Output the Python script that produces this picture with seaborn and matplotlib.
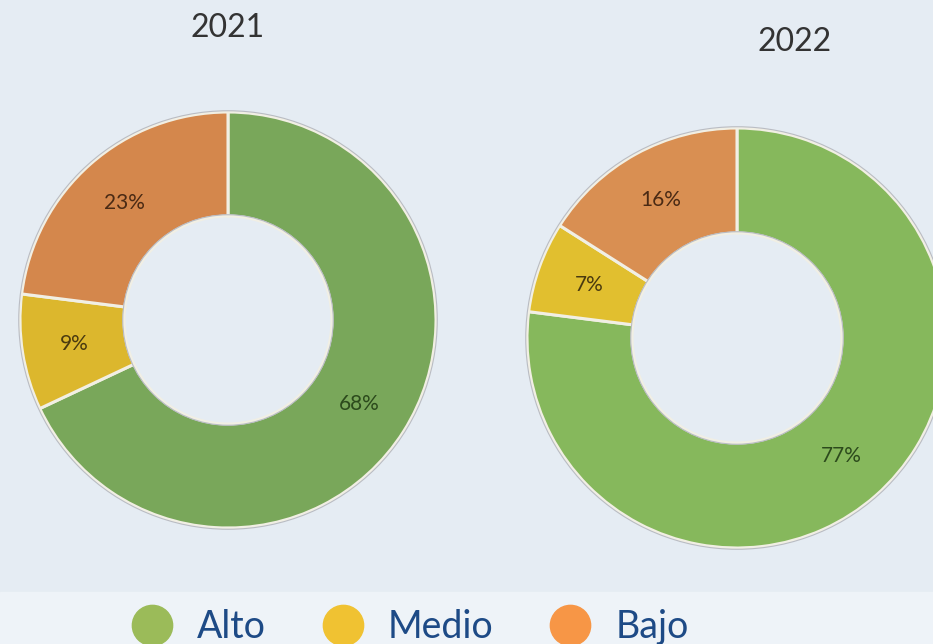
import matplotlib
matplotlib.use("Agg")
import matplotlib.pyplot as plt
from matplotlib.lines import Line2D
import seaborn as sns

categories = ["Alto", "Medio", "Bajo"]
years = ["2021", "2022"]
values_2021 = [68, 9, 23]
values_2022 = [77, 7, 16]

colors_2021 = ["#79a75a", "#dcb72d", "#d4874c"]
colors_2022 = ["#86b85c", "#e1bf2f", "#d98f52"]
label_colors = ["#2c4a1c", "#4a3a10", "#4a2a14"]
legend_colors = ["#9bbb59", "#f0c232", "#f79646"]

BG = "#e5ecf3"
STRIP = "#eef3f8"
W, H = 933, 644

sns.set_theme(style="white")
plt.rcParams["font.family"] = ["Lato", "DejaVu Sans"]

fig = plt.figure(figsize=(W / 100, H / 100), dpi=100, facecolor=BG)
fig.patches.append(plt.Rectangle((0, 0), 1, (H - 592) / H, transform=fig.transFigure,
                                 color=STRIP, zorder=0))


def donut(values, colors, cx, cy, r, title, tx, ty):
    half = r + 8
    ax = fig.add_axes([(cx - half) / W, (H - cy - half) / H, 2 * half / W, 2 * half / H])
    wedges, _, autotexts = ax.pie(values, colors=colors, startangle=90, counterclock=False,
                                  autopct="%1.0f%%", pctdistance=0.75,
                                  wedgeprops=dict(width=0.5, edgecolor="#f1efe4", linewidth=2.2),
                                  textprops=dict(fontsize=15))
    for t, c in zip(autotexts, label_colors):
        t.set_color(c)
    # faint grey rim around the ring
    for rad in (1.0, 0.5):
        ax.add_patch(plt.Circle((0, 0), rad + 0.006, fill=False, edgecolor="#b9bcc4",
                                linewidth=0.8))
    lim = half / r
    ax.set_xlim(-lim, lim)
    ax.set_ylim(-lim, lim)
    ax.set_axis_off()
    fig.text(tx / W, 1 - ty / H, title, ha="center", va="center", fontsize=23, color="#333333")


donut(values_2021, colors_2021, 228, 320, 208, years[0], 228, 28)
donut(values_2022, colors_2022, 737, 338, 210, years[1], 795, 42)

handles = [Line2D([0], [0], marker="o", linestyle="", markersize=29, markerfacecolor=c,
                  markeredgecolor=c) for c in legend_colors]
fig.legend(handles, categories, loc="center", bbox_to_anchor=(411 / W, 1 - 627 / H),
           ncol=3, frameon=False, fontsize=27, labelcolor="#1d4a86",
           handlelength=1.0, handletextpad=0.7, columnspacing=1.55, borderpad=0)

fig.savefig("out.png", dpi=100, facecolor=BG)
